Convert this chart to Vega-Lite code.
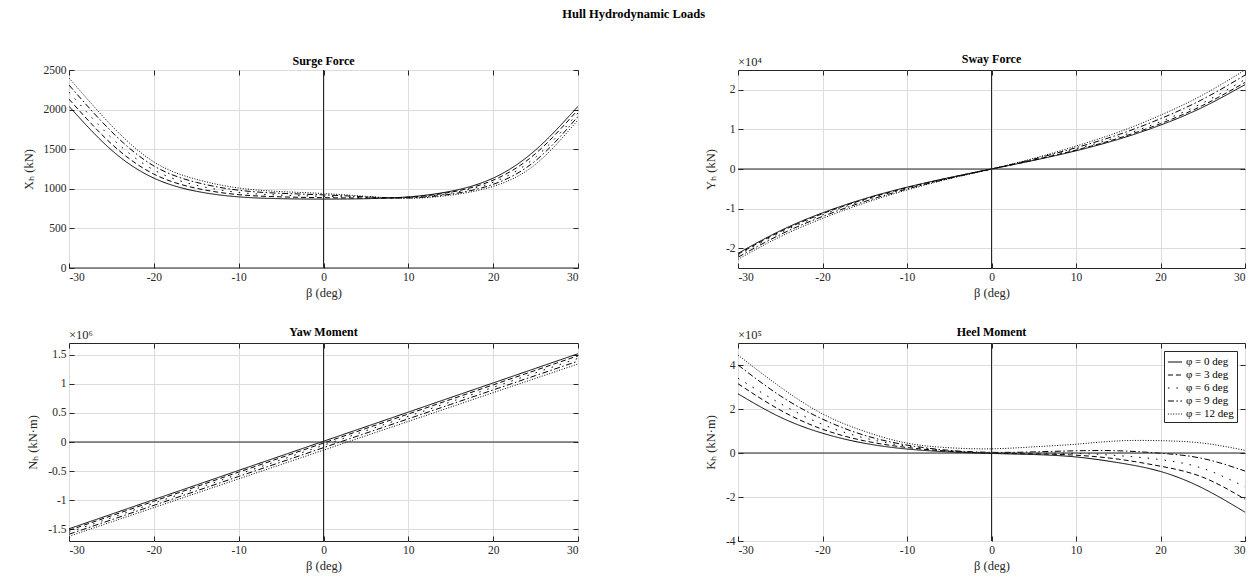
{
  "$schema": "https://vega.github.io/schema/vega-lite/v6.json",
  "background": "white",
  "padding": {"left": 21, "top": 8, "right": 4, "bottom": 5},
  "title": {"text": "Hull Hydrodynamic Loads", "fontSize": 12.5, "fontWeight": "bold", "font": "Liberation Serif", "color": "black", "anchor": "middle", "offset": 32},
  "datasets": {
    "surge": [
      {"b": -30, "p0": 2042, "p3": 2132, "p6": 2221, "p9": 2310, "p12": 2400},
      {"b": -25, "p0": 1490, "p3": 1568, "p6": 1645, "p9": 1723, "p12": 1800},
      {"b": -20, "p0": 1135, "p3": 1186, "p6": 1238, "p9": 1289, "p12": 1340},
      {"b": -15, "p0": 969, "p3": 1007, "p6": 1045, "p9": 1082, "p12": 1120},
      {"b": -10, "p0": 898, "p3": 926, "p6": 954, "p9": 982, "p12": 1010},
      {"b": -5, "p0": 875, "p3": 898, "p6": 920, "p9": 943, "p12": 965},
      {"b": 0, "p0": 870, "p3": 888, "p6": 905, "p9": 923, "p12": 940},
      {"b": 5, "p0": 875, "p3": 883, "p6": 890, "p9": 898, "p12": 905},
      {"b": 10, "p0": 898, "p3": 894, "p6": 889, "p9": 885, "p12": 880},
      {"b": 15, "p0": 969, "p3": 957, "p6": 945, "p9": 932, "p12": 920},
      {"b": 20, "p0": 1135, "p3": 1109, "p6": 1083, "p9": 1056, "p12": 1030},
      {"b": 25, "p0": 1490, "p3": 1445, "p6": 1400, "p9": 1355, "p12": 1310},
      {"b": 30, "p0": 2042, "p3": 1999, "p6": 1956, "p9": 1913, "p12": 1870}
    ],
    "sway": [
      {"b": -30, "p0": -21300, "p3": -21525, "p6": -21825, "p9": -22275, "p12": -22800},
      {"b": -25, "p0": -15600, "p3": -15825, "p6": -16125, "p9": -16575, "p12": -17100},
      {"b": -20, "p0": -11080, "p3": -11290, "p6": -11570, "p9": -11990, "p12": -12480},
      {"b": -15, "p0": -7490, "p3": -7655, "p6": -7875, "p9": -8205, "p12": -8590},
      {"b": -10, "p0": -4600, "p3": -4705, "p6": -4845, "p9": -5055, "p12": -5300},
      {"b": -5, "p0": -2180, "p3": -2225, "p6": -2285, "p9": -2375, "p12": -2480},
      {"b": 0, "p0": 0, "p3": 0, "p6": 0, "p9": 0, "p12": 0},
      {"b": 5, "p0": 2180, "p3": 2255, "p6": 2355, "p9": 2505, "p12": 2680},
      {"b": 10, "p0": 4600, "p3": 4780, "p6": 5020, "p9": 5380, "p12": 5800},
      {"b": 15, "p0": 7490, "p3": 7760, "p6": 8120, "p9": 8660, "p12": 9290},
      {"b": 20, "p0": 11080, "p3": 11455, "p6": 11955, "p9": 12705, "p12": 13580},
      {"b": 25, "p0": 15600, "p3": 16065, "p6": 16685, "p9": 17615, "p12": 18700},
      {"b": 30, "p0": 21300, "p3": 21855, "p6": 22595, "p9": 23705, "p12": 25000}
    ],
    "yaw": [
      {"b": -30, "p0": -1490000, "p3": -1516000, "p6": -1549000, "p9": -1584000, "p12": -1620000},
      {"b": -25, "p0": -1240000, "p3": -1267000, "p6": -1300000, "p9": -1336000, "p12": -1373000},
      {"b": -20, "p0": -989000, "p3": -1017000, "p6": -1051000, "p9": -1088000, "p12": -1127000},
      {"b": -15, "p0": -739000, "p3": -767000, "p6": -802000, "p9": -841000, "p12": -880000},
      {"b": -10, "p0": -488000, "p3": -517000, "p6": -553000, "p9": -592000, "p12": -633000},
      {"b": -5, "p0": -238000, "p3": -268000, "p6": -305000, "p9": -345000, "p12": -387000},
      {"b": 0, "p0": 12500, "p3": -18000, "p6": -56000, "p9": -97000, "p12": -140000},
      {"b": 5, "p0": 263000, "p3": 232000, "p6": 193000, "p9": 151000, "p12": 107000},
      {"b": 10, "p0": 513000, "p3": 481000, "p6": 441000, "p9": 398000, "p12": 353000},
      {"b": 15, "p0": 764000, "p3": 731000, "p6": 690000, "p9": 646000, "p12": 600000},
      {"b": 20, "p0": 1014000, "p3": 981000, "p6": 939000, "p9": 894000, "p12": 847000},
      {"b": 25, "p0": 1265000, "p3": 1231000, "p6": 1188000, "p9": 1141000, "p12": 1093000},
      {"b": 30, "p0": 1515000, "p3": 1480000, "p6": 1436000, "p9": 1389000, "p12": 1340000}
    ],
    "heel": [
      {"b": -30, "p0": 269000, "p3": 315000, "p6": 340000, "p9": 400000, "p12": 445000},
      {"b": -25, "p0": 163000, "p3": 195000, "p6": 225000, "p9": 260000, "p12": 300000},
      {"b": -20, "p0": 90000, "p3": 108000, "p6": 130000, "p9": 154000, "p12": 178000},
      {"b": -15, "p0": 44000, "p3": 55000, "p6": 68000, "p9": 80000, "p12": 98000},
      {"b": -10, "p0": 18000, "p3": 25000, "p6": 31000, "p9": 36000, "p12": 45000},
      {"b": -5, "p0": 5000, "p3": 8000, "p6": 10000, "p9": 12000, "p12": 24000},
      {"b": 0, "p0": -2000, "p3": -1000, "p6": 1000, "p9": 3000, "p12": 19000},
      {"b": 5, "p0": -7000, "p3": -4000, "p6": -1000, "p9": 5000, "p12": 28000},
      {"b": 10, "p0": -18000, "p3": -10000, "p6": -2000, "p9": 10000, "p12": 40000},
      {"b": 15, "p0": -44000, "p3": -28000, "p6": -12000, "p9": 10000, "p12": 55000},
      {"b": 20, "p0": -84000, "p3": -60000, "p6": -30000, "p9": -1000, "p12": 56000},
      {"b": 25, "p0": -160000, "p3": -110000, "p6": -70000, "p9": -25000, "p12": 45000},
      {"b": 30, "p0": -269000, "p3": -210000, "p6": -154000, "p9": -82000, "p12": 12000}
    ]
  },
  "columns": 2,
  "spacing": {"row": 75, "column": 160},
  "bounds": "flush",
  "resolve": {"scale": {"strokeDash": "independent"}, "legend": {"strokeDash": "independent"}},
  "concat": [
    {
      "title": {"text": "Surge Force", "offset": -4},
      "width": 509, "height": 198,
      "layer": [
        {
          "data": {"name": "surge"},
          "transform": [{"fold": ["p0", "p3", "p6", "p9", "p12"], "as": ["phi", "v"]}],
          "mark": {"type": "line", "interpolate": "natural", "strokeWidth": 1, "color": "black", "clip": true},
          "encoding": {
            "x": {"field": "b", "type": "quantitative", "scale": {"domain": [-30, 30], "nice": false}, "axis": {"title": "β (deg)", "values": [-30, -20, -10, 0, 10, 20, 30], "labelExpr": "datum.value + ''"}},
            "y": {"field": "v", "type": "quantitative", "scale": {"domain": [0, 2500], "nice": false, "zero": false}, "axis": {"title": "Xₕ  (kN)", "titlePadding": 8, "values": [0, 500, 1000, 1500, 2000, 2500], "labelExpr": "datum.value + ''"}},
            "strokeDash": {"field": "phi", "type": "nominal", "scale": {"domain": ["p0", "p3", "p6", "p9", "p12"], "range": [[1, 0], [5, 3], [1.5, 7], [6, 2.5, 1.5, 2.5], [1, 1.6]]}, "legend": null}
          }
        },
        {
          "data": {"values": [{"b": 0}]},
          "mark": {"type": "rule", "color": "#262626", "strokeWidth": 1},
          "encoding": {"x": {"field": "b", "type": "quantitative", "axis": {"orient": "top", "labels": false, "title": null, "grid": false, "values": [-30, -20, -10, 0, 10, 20, 30]}}}
        },
        {
          "data": {"values": [{"v": 0}]},
          "mark": {"type": "rule", "color": "#262626", "strokeWidth": 1},
          "encoding": {"y": {"field": "v", "type": "quantitative", "axis": {"orient": "right", "labels": false, "title": null, "grid": false, "values": [0, 500, 1000, 1500, 2000, 2500]}}}
        }
      ],
      "resolve": {"axis": {"x": "independent", "y": "independent"}}
    },
    {
      "title": {"text": "Sway Force", "offset": -10},
      "width": 507, "height": 198,
      "layer": [
        {
          "data": {"name": "sway"},
          "transform": [{"fold": ["p0", "p3", "p6", "p9", "p12"], "as": ["phi", "v"]}],
          "mark": {"type": "line", "interpolate": "natural", "strokeWidth": 1, "color": "black", "clip": true},
          "encoding": {
            "x": {"field": "b", "type": "quantitative", "scale": {"domain": [-30, 30], "nice": false}, "axis": {"title": "β (deg)", "values": [-30, -20, -10, 0, 10, 20, 30], "labelExpr": "datum.value + ''"}},
            "y": {"field": "v", "type": "quantitative", "scale": {"domain": [-25000, 25000], "nice": false, "zero": false}, "axis": {"title": "Yₕ  (kN)", "titlePadding": 8, "values": [-20000, -10000, 0, 10000, 20000], "labelExpr": "(datum.value / 10000) + ''"}},
            "strokeDash": {"field": "phi", "type": "nominal", "scale": {"domain": ["p0", "p3", "p6", "p9", "p12"], "range": [[1, 0], [5, 3], [1.5, 7], [6, 2.5, 1.5, 2.5], [1, 1.6]]}, "legend": null}
          }
        },
        {
          "data": {"values": [{"b": 0}]},
          "mark": {"type": "rule", "color": "#262626", "strokeWidth": 1},
          "encoding": {"x": {"field": "b", "type": "quantitative", "axis": {"orient": "top", "labels": false, "title": null, "grid": false, "values": [-30, -20, -10, 0, 10, 20, 30]}}}
        },
        {
          "data": {"values": [{"v": 0}]},
          "mark": {"type": "rule", "color": "#262626", "strokeWidth": 1},
          "encoding": {"y": {"field": "v", "type": "quantitative", "axis": {"orient": "right", "labels": false, "title": null, "grid": false, "values": [-20000, -10000, 0, 10000, 20000]}}}
        },
        {
          "data": {"values": [{"b": -30, "v": 25000, "t": "×10⁴"}]},
          "mark": {"type": "text", "align": "left", "baseline": "bottom", "dy": -1, "fontSize": 12.5, "font": "Liberation Serif", "color": "#262626"},
          "encoding": {"x": {"field": "b", "type": "quantitative", "axis": null}, "y": {"field": "v", "type": "quantitative", "axis": null}, "text": {"field": "t"}}
        }
      ],
      "resolve": {"axis": {"x": "independent", "y": "independent"}}
    },
    {
      "title": {"text": "Yaw Moment", "offset": -10},
      "width": 509, "height": 198,
      "layer": [
        {
          "data": {"name": "yaw"},
          "transform": [{"fold": ["p0", "p3", "p6", "p9", "p12"], "as": ["phi", "v"]}],
          "mark": {"type": "line", "interpolate": "natural", "strokeWidth": 1, "color": "black", "clip": true},
          "encoding": {
            "x": {"field": "b", "type": "quantitative", "scale": {"domain": [-30, 30], "nice": false}, "axis": {"title": "β (deg)", "values": [-30, -20, -10, 0, 10, 20, 30], "labelExpr": "datum.value + ''"}},
            "y": {"field": "v", "type": "quantitative", "scale": {"domain": [-1700000, 1700000], "nice": false, "zero": false}, "axis": {"title": "Nₕ  (kN·m)", "titlePadding": 8, "values": [-1500000, -1000000, -500000, 0, 500000, 1000000, 1500000], "labelExpr": "(datum.value / 1000000) + ''"}},
            "strokeDash": {"field": "phi", "type": "nominal", "scale": {"domain": ["p0", "p3", "p6", "p9", "p12"], "range": [[1, 0], [5, 3], [1.5, 7], [6, 2.5, 1.5, 2.5], [1, 1.6]]}, "legend": null}
          }
        },
        {
          "data": {"values": [{"b": 0}]},
          "mark": {"type": "rule", "color": "#262626", "strokeWidth": 1},
          "encoding": {"x": {"field": "b", "type": "quantitative", "axis": {"orient": "top", "labels": false, "title": null, "grid": false, "values": [-30, -20, -10, 0, 10, 20, 30]}}}
        },
        {
          "data": {"values": [{"v": 0}]},
          "mark": {"type": "rule", "color": "#262626", "strokeWidth": 1},
          "encoding": {"y": {"field": "v", "type": "quantitative", "axis": {"orient": "right", "labels": false, "title": null, "grid": false, "values": [-1500000, -1000000, -500000, 0, 500000, 1000000, 1500000]}}}
        },
        {
          "data": {"values": [{"b": -30, "v": 1700000, "t": "×10⁶"}]},
          "mark": {"type": "text", "align": "left", "baseline": "bottom", "dy": -1, "fontSize": 12.5, "font": "Liberation Serif", "color": "#262626"},
          "encoding": {"x": {"field": "b", "type": "quantitative", "axis": null}, "y": {"field": "v", "type": "quantitative", "axis": null}, "text": {"field": "t"}}
        }
      ],
      "resolve": {"axis": {"x": "independent", "y": "independent"}}
    },
    {
      "title": {"text": "Heel Moment", "offset": -10},
      "width": 507, "height": 198,
      "layer": [
        {
          "data": {"name": "heel"},
          "transform": [{"fold": ["p0", "p3", "p6", "p9", "p12"], "as": ["phi", "v"]}],
          "mark": {"type": "line", "interpolate": "natural", "strokeWidth": 1, "color": "black", "clip": true},
          "encoding": {
            "x": {"field": "b", "type": "quantitative", "scale": {"domain": [-30, 30], "nice": false}, "axis": {"title": "β (deg)", "values": [-30, -20, -10, 0, 10, 20, 30], "labelExpr": "datum.value + ''"}},
            "y": {"field": "v", "type": "quantitative", "scale": {"domain": [-400000, 500000], "nice": false, "zero": false}, "axis": {"title": "Kₕ  (kN·m)", "titlePadding": 8, "values": [-400000, -200000, 0, 200000, 400000], "labelExpr": "(datum.value / 100000) + ''"}},
            "strokeDash": {"field": "phi", "type": "nominal", "scale": {"domain": ["p0", "p3", "p6", "p9", "p12"], "range": [[1, 0], [5, 3], [1.5, 7], [6, 2.5, 1.5, 2.5], [1, 1.6]]},
              "legend": {"orient": "top-right", "title": null, "labelExpr": "'φ = ' + slice(datum.label, 1) + ' deg'", "strokeColor": "#262626", "fillColor": "white", "padding": 3, "offset": 8, "symbolSize": 200, "symbolStrokeWidth": 1, "symbolStrokeColor": "black", "symbolType": "stroke", "labelFontSize": 11, "labelFont": "Liberation Serif", "labelColor": "black", "labelOffset": 3, "rowPadding": 0, "cornerRadius": 0}}
          }
        },
        {
          "data": {"values": [{"b": 0}]},
          "mark": {"type": "rule", "color": "#262626", "strokeWidth": 1},
          "encoding": {"x": {"field": "b", "type": "quantitative", "axis": {"orient": "top", "labels": false, "title": null, "grid": false, "values": [-30, -20, -10, 0, 10, 20, 30]}}}
        },
        {
          "data": {"values": [{"v": 0}]},
          "mark": {"type": "rule", "color": "#262626", "strokeWidth": 1},
          "encoding": {"y": {"field": "v", "type": "quantitative", "axis": {"orient": "right", "labels": false, "title": null, "grid": false, "values": [-400000, -200000, 0, 200000, 400000]}}}
        },
        {
          "data": {"values": [{"b": -30, "v": 500000, "t": "×10⁵"}]},
          "mark": {"type": "text", "align": "left", "baseline": "bottom", "dy": -1, "fontSize": 12.5, "font": "Liberation Serif", "color": "#262626"},
          "encoding": {"x": {"field": "b", "type": "quantitative", "axis": null}, "y": {"field": "v", "type": "quantitative", "axis": null}, "text": {"field": "t"}}
        }
      ],
      "resolve": {"axis": {"x": "independent", "y": "independent"}}
    }
  ],
  "config": {
    "font": "Liberation Serif",
    "view": {"stroke": "#262626", "strokeWidth": 1},
    "title": {"font": "Liberation Serif", "fontSize": 12, "fontWeight": "bold", "color": "black"},
    "axis": {
      "labelFont": "Liberation Serif", "labelFontSize": 11.5, "labelColor": "#262626",
      "titleFont": "Liberation Serif", "titleFontSize": 12.5, "titleFontWeight": "normal", "titleColor": "#262626",
      "gridColor": "#dcdcdc", "gridWidth": 1, "domain": false,
      "tickColor": "#262626", "tickSize": -5, "labelPadding": 8, "titlePadding": 4
    }
  }
}
